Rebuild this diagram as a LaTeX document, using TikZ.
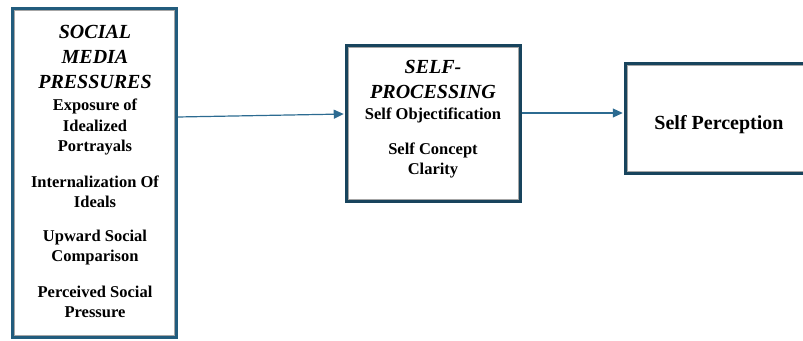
\documentclass[tikz,border=0pt]{standalone}
\usepackage{fontspec}
\setmainfont{Liberation Serif}
\usetikzlibrary{arrows.meta}
\definecolor{edgeblue}{HTML}{225C7D}
\definecolor{edgedark}{HTML}{18445D}
\definecolor{arrowblue}{HTML}{2C6B91}
\tikzset{
  box/.style={draw=edgedark, line width=3.5pt, inner sep=0pt},
  inner/.style={draw=gray!70, line width=0.8pt},
  head/.style={font=\bfseries\itshape\fontsize{20}{25}\selectfont, align=center, inner sep=0pt},
  item/.style={font=\bfseries\fontsize{16.5}{20.5}\selectfont, align=center, inner sep=0pt},
  link/.style={draw=arrowblue, line width=1.2pt, -{Triangle[length=10pt,width=9pt]}, shorten >=1.5pt}
}
\begin{document}
\begin{tikzpicture}[x=1pt,y=1pt]
\useasboundingbox (0,0) rectangle (803,340);

% boxes
\node[box, draw=edgeblue, minimum width=163pt, minimum height=328pt] (smp) at (94.5,167) {};
\node[box, minimum width=173pt, minimum height=155pt] (sp) at (433.5,216.5) {};
\node[box, minimum width=190pt, minimum height=109pt] (sperc) at (721,221.5) {};

\draw[inner] ([shift={(3.3,-3.3)}]smp.north west) rectangle ([shift={(-3.3,3.3)}]smp.south east);
\draw[inner] ([shift={(3.3,-3.3)}]sp.north west) rectangle ([shift={(-3.3,3.3)}]sp.south east);
\draw[inner] ([shift={(3.3,-3.3)}]sperc.north west) rectangle ([shift={(-3.3,3.3)}]sperc.south east);

% social media pressures
\node[head] (smphead) at (95,283) {SOCIAL\\MEDIA\\PRESSURES};
\node[item] (expo) at (95,213) {Exposure of\\Idealized\\Portrayals};
\node[item] (intern) at (95,148) {Internalization Of\\Ideals};
\node[item] (upward) at (95,92.5) {Upward Social\\Comparison};
\node[item] (percv) at (95,38) {Perceived Social\\Pressure};

% self-processing
\node[head] (sphead) at (433,260.5) {SELF-\\PROCESSING};
\node[item] (objec) at (433,224.5) {Self Objectification};
\node[item] (clar) at (433,179.5) {Self Concept\\Clarity};

% self perception
\node[font=\bfseries\fontsize{20}{24}\selectfont, inner sep=0pt] (perc) at (719,215.5) {Self Perception};

% arrows
\draw[link] ([yshift=56pt]smp.east) -- ([yshift=9.5pt]sp.west);
\draw[link] ([yshift=10.5pt]sp.east) -- ([yshift=5.5pt]sperc.west);
\end{tikzpicture}
\end{document}
